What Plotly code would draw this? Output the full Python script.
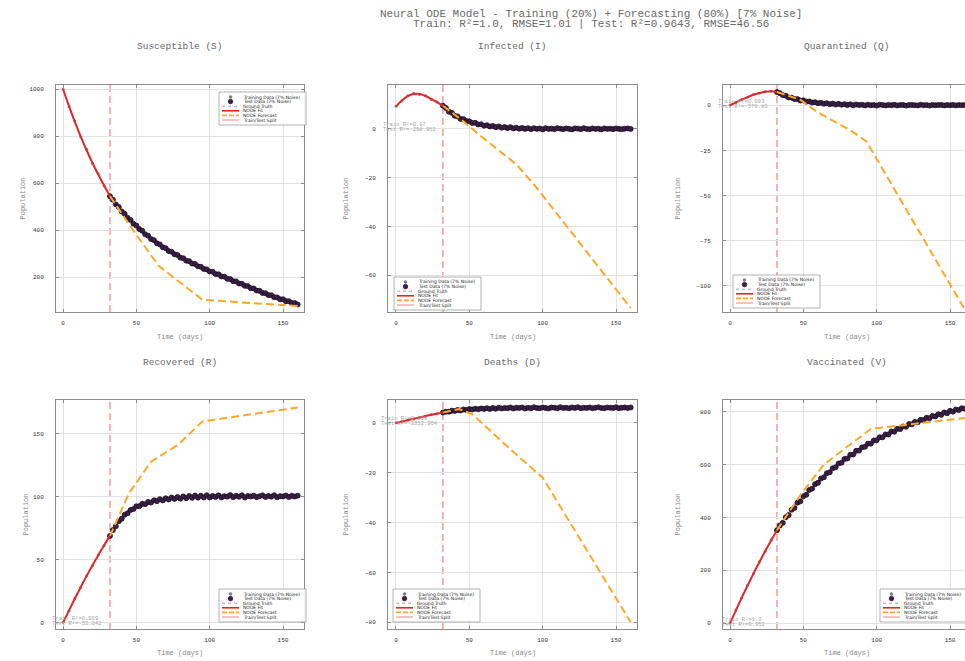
import plotly.graph_objects as go

W, H = 965, 661

# ---------------- data ----------------
TRAIN_T = [0, 4, 8, 12, 16, 20, 24, 28, 32]
TEST_T = [32, 34, 36, 38, 40, 42, 44, 46, 48, 50, 52, 54, 56, 58, 60, 62, 64, 66, 68, 70,
          72, 74, 76, 78, 80, 82, 84, 86, 88, 90, 92, 94, 96, 98, 100, 102, 104, 106, 108,
          110, 112, 114, 116, 118, 120, 122, 124, 126, 128, 130, 132, 134, 136, 138, 140,
          142, 144, 146, 148, 150, 152, 154, 156, 158, 160]
SPLIT_T = 32
X_TICKS = [0, 50, 100, 150]

TITLES = ["Susceptible (S)", "Infected (I)", "Quarantined (Q)",
          "Recovered (R)", "Deaths (D)", "Vaccinated (V)"]

S_TRAIN = [1000, 926, 864, 797, 744, 685, 640, 588, 548]
S_FIT = [1000, 928, 861, 799, 741, 687, 637, 590, 545]
S_TEST = [545, 530, 510, 499, 480, 470, 453, 444, 428, 420, 405, 398, 383, 377, 363, 358,
          345, 340, 328, 324, 312, 309, 298, 295, 284, 281, 271, 269, 259, 257, 247, 245,
          236, 234, 225, 224, 214, 213, 204, 203, 194, 193, 184, 183, 174, 173, 164, 163,
          154, 153, 144, 143, 134, 133, 125, 124, 116, 115, 107, 107, 99, 99, 91, 91, 85]
S_FC_T = [32, 45, 65, 95, 160]
S_FC = [545, 425, 250, 105, 78]

I_TRAIN = [9.3, 11.4, 13.6, 14.6, 14.1, 13.7, 12.1, 11.1, 9.4]
I_FIT = [9.1, 11.6, 13.4, 14.3, 14.3, 13.5, 12.3, 10.9, 9.5]
I_TEST = [9.5, 8.6, 7.1, 6.6, 5.4, 5.1, 4.1, 4.0, 3.2, 3.1, 2.4, 2.5, 1.8, 1.9, 1.3, 1.5,
          1.0, 1.2, 0.7, 1.0, 0.5, 0.8, 0.3, 0.7, 0.2, 0.5, 0.1, 0.4, 0.0, 0.3, -0.1, 0.3,
          0.0, 0.2, -0.2, 0.3, 0.0, 0.1, -0.1, 0.3, 0.1, -0.1, 0.2, 0.0, -0.2, 0.2, 0.1,
          -0.1, 0.3, 0.0, -0.1, 0.2, 0.0, 0.1, -0.2, 0.2, 0.0, 0.1, -0.1, 0.2, 0.0, -0.1,
          0.1, 0.2, 0.0]
I_FC_T = [32, 45, 60, 82, 95, 160]
I_FC = [9.5, 3.5, -4.0, -14.5, -23.5, -73.5]

Q_TRAIN = [0.2, 1.5, 3.2, 4.4, 5.9, 6.7, 7.6, 7.7, 7.3]
Q_FIT = [0.0, 1.6, 3.1, 4.5, 5.8, 6.8, 7.5, 7.8, 7.3]
Q_TEST = [7.3, 6.7, 5.6, 5.3, 4.3, 4.2, 3.4, 3.4, 2.6, 2.7, 2.0, 2.1, 1.5, 1.7, 1.1, 1.4,
          0.8, 1.1, 0.6, 0.9, 0.4, 0.8, 0.3, 0.6, 0.1, 0.5, 0.0, 0.4, 0.1, 0.3, -0.1, 0.3,
          0.0, 0.2, -0.2, 0.3, 0.1, -0.1, 0.2, 0.0, 0.3, -0.1, 0.1, 0.2, -0.2, 0.1, 0.2,
          0.0, -0.1, 0.3, 0.0, 0.1, -0.2, 0.2, 0.0, 0.1, 0.2, -0.1, 0.1, 0.0, 0.2, -0.1,
          0.1, 0.0, 0.2]
Q_FC_T = [32, 48, 60, 82, 93, 160]
Q_FC = [7.3, 3.0, -4.0, -13.8, -20.0, -113.0]

R_TRAIN = [0.3, 9.4, 19.2, 28.0, 37.3, 45.2, 53.9, 61.2, 69.2]
R_FIT = [0.0, 9.6, 19.0, 28.2, 37.0, 45.5, 53.6, 61.5, 69.0]
R_TEST = [69.0, 73.6, 76.7, 80.6, 82.6, 85.8, 87.0, 89.6, 90.3, 92.5, 92.6, 94.5, 94.2,
          96.0, 95.5, 97.3, 96.6, 98.2, 97.2, 98.9, 97.9, 99.5, 98.4, 99.9, 98.6, 100.4,
          99.0, 100.7, 99.3, 101.1, 99.4, 100.9, 99.6, 101.3, 99.5, 100.8, 99.9, 101.2,
          99.6, 100.6, 100.2, 101.4, 99.7, 100.9, 100.1, 101.3, 99.5, 100.7, 100.3, 101.0,
          99.8, 100.5, 101.2, 99.9, 100.8, 100.2, 101.3, 99.7, 100.6, 100.4, 101.1, 99.9,
          100.9, 100.3, 101.0]
R_FC_T = [32, 45, 60, 78, 95, 160]
R_FC = [69, 103, 128, 141, 160, 171]

D_TRAIN = [0.1, 0.5, 1.2, 1.6, 2.3, 2.7, 3.3, 3.7, 4.2]
D_FIT = [0.0, 0.55, 1.1, 1.65, 2.2, 2.75, 3.25, 3.75, 4.2]
D_TEST = [4.2, 4.5, 4.5, 4.9, 4.8, 5.2, 5.0, 5.4, 5.2, 5.6, 5.4, 5.7, 5.5, 5.8, 5.6, 5.9,
          5.6, 6.0, 5.7, 6.1, 5.8, 6.0, 5.9, 6.2, 5.8, 6.1, 6.0, 6.2, 5.8, 6.1, 5.9, 6.3,
          6.0, 5.9, 6.2, 6.0, 5.8, 6.2, 6.1, 5.9, 6.3, 6.0, 6.1, 5.9, 6.2, 6.0, 6.3, 5.9,
          6.1, 6.0, 6.2, 5.9, 6.1, 6.3, 6.0, 5.9, 6.2, 6.1, 6.0, 6.3, 5.9, 6.1, 6.2, 6.0,
          6.2]
D_FC_T = [32, 43, 52, 62, 75, 100, 160]
D_FC = [4.2, 5.6, 3.5, -2.0, -9.0, -22.0, -80.0]

V_TRAIN = [1, 50, 96, 144, 187, 232, 272, 314, 352]
V_FIT = [0, 49, 97, 143, 188, 231, 273, 313, 352]
V_TEST = [352, 370, 380, 401, 409, 429, 436, 456, 461, 480, 486, 504, 509, 526, 531, 547,
          552, 567, 571, 586, 590, 604, 607, 621, 623, 637, 638, 652, 653, 665, 667, 679,
          679, 691, 692, 703, 703, 714, 714, 725, 724, 735, 734, 744, 743, 753, 752, 761,
          760, 769, 768, 777, 775, 784, 782, 790, 788, 797, 794, 803, 800, 808, 806, 813,
          811]
V_FC_T = [32, 48, 64, 96, 118, 160]
V_FC = [352, 485, 600, 735, 749, 776]

TRAIN_R2 = ["1.0", "0.97", "0.993", "0.999", "0.998", "1.0"]
TEST_R2 = ["0.791", "-298.962", "-576.89", "-52.042", "-3352.964", "0.952"]

Y_TICKS = [[200, 400, 600, 800, 1000], [0, -20, -40, -60], [0, -25, -50, -75, -100],
           [0, 50, 100, 150], [0, -20, -40, -60, -80], [0, 200, 400, 600, 800]]

LEGEND_LABELS = ["Training Data (7% Noise)", "Test Data (7% Noise)", "Ground Truth",
                 "NODE Fit", "NODE Forecast", "Train/Test Split"]

SERIES = [
    (S_TRAIN, S_FIT, S_TEST, S_FC_T, S_FC),
    (I_TRAIN, I_FIT, I_TEST, I_FC_T, I_FC),
    (Q_TRAIN, Q_FIT, Q_TEST, Q_FC_T, Q_FC),
    (R_TRAIN, R_FIT, R_TEST, R_FC_T, R_FC),
    (D_TRAIN, D_FIT, D_TEST, D_FC_T, D_FC),
    (V_TRAIN, V_FIT, V_TEST, V_FC_T, V_FC),
]

# ---------------- layout (pixels) ----------------
COL_X = [(56, 304), (388, 637), (723, 965)]
ROW_Y = [(85, 312), (400, 629)]
COL_CENTER = [180, 512, 847]
X_RANGES = [[-4.8, 164.3], [-5.45, 164.3], [-4.77, 160.2]]
Y_RANGES = [[53, 1017], [-75.1, 18], [-114.4, 11.2], [-5, 177], [-82.7, 9.2], [-21.5, 844]]
YTITLE_X = [[22, 345, 677], [25, 345, 677]]
LEGEND_POS = [(219, 92), (394, 277), (733, 275), (219, 589), (393, 589), (880, 589)]
R2_SHIFT = [11, 11.5, 11, 11.5, 11, 11]

MONO = "Liberation Mono"
TEXT_GRAY = "#6a6a6a"
FRAME = "#8c8c8c"
GRID = "#e3e3e3"
RED = "#e3262b"
ORANGE = "#ffa726"
PURPLE = "#3a2146"
PURPLE_EDGE = "#1a0c22"


def px(x):
    return x / W


def py(y):
    return 1 - y / H


fig = go.Figure()
annotations = []
shapes = []

for i, (tr, fit, te, fct, fc) in enumerate(SERIES):
    row, col = divmod(i, 3)
    sfx = "" if i == 0 else str(i + 1)
    xa, ya = "x" + sfx, "y" + sfx

    fig.add_trace(go.Scatter(x=TRAIN_T, y=tr, mode="markers", xaxis=xa, yaxis=ya,
                             marker=dict(size=3, color="#8a8a8a"), showlegend=False))
    fig.add_trace(go.Scatter(x=TEST_T, y=te, mode="markers", xaxis=xa, yaxis=ya,
                             marker=dict(size=5, color=PURPLE,
                                         line=dict(color=PURPLE_EDGE, width=0.8)),
                             showlegend=False))
    fig.add_trace(go.Scatter(x=TRAIN_T, y=fit, mode="lines", xaxis=xa, yaxis=ya,
                             line=dict(color=RED, width=2, shape="spline"), showlegend=False))
    fig.add_trace(go.Scatter(x=fct, y=fc, mode="lines", xaxis=xa, yaxis=ya,
                             line=dict(color=ORANGE, width=2, dash="8px,4px"),
                             showlegend=False))

    x0, x1 = COL_X[col]
    y0, y1 = ROW_Y[row]
    common = dict(showgrid=True, gridcolor=GRID, gridwidth=0.8, showline=True,
                  linecolor=FRAME, linewidth=1, ticks="inside", ticklen=3,
                  tickcolor=FRAME, tickwidth=0.8, zeroline=False,
                  tickfont=dict(family=MONO, size=6, color="#333333"))
    fig.layout["xaxis" + sfx] = dict(domain=[px(x0), px(x1)], anchor=ya, range=X_RANGES[col],
                                     tickvals=X_TICKS, mirror="allticks",
                                     ticklabelstandoff=5, **common)
    fig.layout["yaxis" + sfx] = dict(domain=[py(y1), py(y0)], anchor=xa, range=Y_RANGES[i],
                                     tickvals=Y_TICKS[i],
                                     mirror=("allticks" if col < 2 else False),
                                     ticklabelstandoff=10, **common)

    # split line
    shapes.append(dict(type="line", xref=xa, yref=ya + " domain", x0=SPLIT_T, x1=SPLIT_T,
                       y0=0, y1=1, layer="below",
                       line=dict(color="rgba(235,90,90,0.75)", width=1.2, dash="7px,4px")))

    # subplot title
    annotations.append(dict(text=TITLES[i], xref="paper", yref="paper", x=px(COL_CENTER[col]),
                            y=py(46 if row == 0 else 362), showarrow=False, xanchor="center",
                            yanchor="middle", font=dict(family=MONO, size=9.5, color=TEXT_GRAY)))
    # axis titles
    annotations.append(dict(text="Time (days)", xref="paper", yref="paper",
                            x=px((x0 + x1) / 2 if col < 2 else COL_CENTER[col]),
                            y=py(337 if row == 0 else 653), showarrow=False,
                            xanchor="center", yanchor="middle",
                            font=dict(family=MONO, size=7, color="#8a8a8a")))
    annotations.append(dict(text="Population", xref="paper", yref="paper",
                            x=px(YTITLE_X[row][col]), y=py((y0 + y1) / 2), showarrow=False,
                            textangle=-90, xanchor="center", yanchor="middle",
                            font=dict(family=MONO, size=7, color="#8a8a8a")))
    # R^2 texts
    l1 = "Train R\u00b2=" + TRAIN_R2[i]
    l2 = "Test R\u00b2=" + TEST_R2[i]
    wmax = max(len(l1), len(l2)) * 3.3
    for txt, ys in ((l1, 4), (l2, -1)):
        annotations.append(dict(text=txt, xref=xa, yref=ya, x=0, y=0, showarrow=False,
                                xanchor="left", yanchor="middle",
                                xshift=R2_SHIFT[i] - wmax / 2, yshift=ys,
                                font=dict(family=MONO, size=5.5, color="#a8a8a8")))

    # legend box (drawn manually)
    lx, ly = LEGEND_POS[i]
    lw, lh = 87, 33
    shapes.append(dict(type="rect", xref="paper", yref="paper", x0=px(lx), x1=px(lx + lw),
                       y0=py(ly + lh), y1=py(ly), fillcolor="rgba(255,255,255,0.9)",
                       line=dict(color="#a0a0a0", width=0.8), layer="above"))
    offs = [5, 9.6, 14.2, 18.8, 23.4, 28]
    sx0, sx1 = lx + 3, lx + 20
    sc = (sx0 + sx1) / 2
    for k, lab in enumerate(LEGEND_LABELS):
        yy = ly + offs[k]
        annotations.append(dict(text=lab, xref="paper", yref="paper", x=px(lx + 22), y=py(yy),
                                showarrow=False, xanchor="left", yanchor="middle",
                                font=dict(family="DejaVu Sans", size=4.5, color="#222222")))
        if k == 0:
            shapes.append(dict(type="circle", xref="paper", yref="paper", x0=px(sc - 1.8),
                               x1=px(sc + 1.8), y0=py(yy + 1.8), y1=py(yy - 1.8),
                               fillcolor="#808080", line=dict(width=0), layer="above"))
        elif k == 1:
            shapes.append(dict(type="circle", xref="paper", yref="paper", x0=px(sc - 2.3),
                               x1=px(sc + 2.3), y0=py(yy + 2.3), y1=py(yy - 2.3),
                               fillcolor=PURPLE, line=dict(color=PURPLE_EDGE, width=0.6),
                               layer="above"))
        else:
            style = {2: dict(color="#9aa3b5", width=1, dash="dot"),
                     3: dict(color=RED, width=1.6),
                     4: dict(color=ORANGE, width=1.6, dash="5px,2px"),
                     5: dict(color="rgba(235,90,90,0.75)", width=1)}[k]
            shapes.append(dict(type="line", xref="paper", yref="paper", x0=px(sx0), x1=px(sx1),
                               y0=py(yy), y1=py(yy), line=style, layer="above"))

annotations.append(dict(text="Neural ODE Model - Training (20%) + Forecasting (80%) [7% Noise]",
                        xref="paper", yref="paper", x=px(591), y=py(14), showarrow=False,
                        xanchor="center", yanchor="middle",
                        font=dict(family=MONO, size=11, color=TEXT_GRAY)))
annotations.append(dict(text="Train: R\u00b2=1.0, RMSE=1.01 | Test: R\u00b2=0.9643, RMSE=46.56",
                        xref="paper", yref="paper", x=px(591), y=py(24), showarrow=False,
                        xanchor="center", yanchor="middle",
                        font=dict(family=MONO, size=11, color=TEXT_GRAY)))

fig.update_layout(width=W, height=H, margin=dict(l=0, r=0, t=0, b=0),
                  paper_bgcolor="white", plot_bgcolor="white", showlegend=False,
                  annotations=annotations, shapes=shapes)

fig.write_html("out.html")
